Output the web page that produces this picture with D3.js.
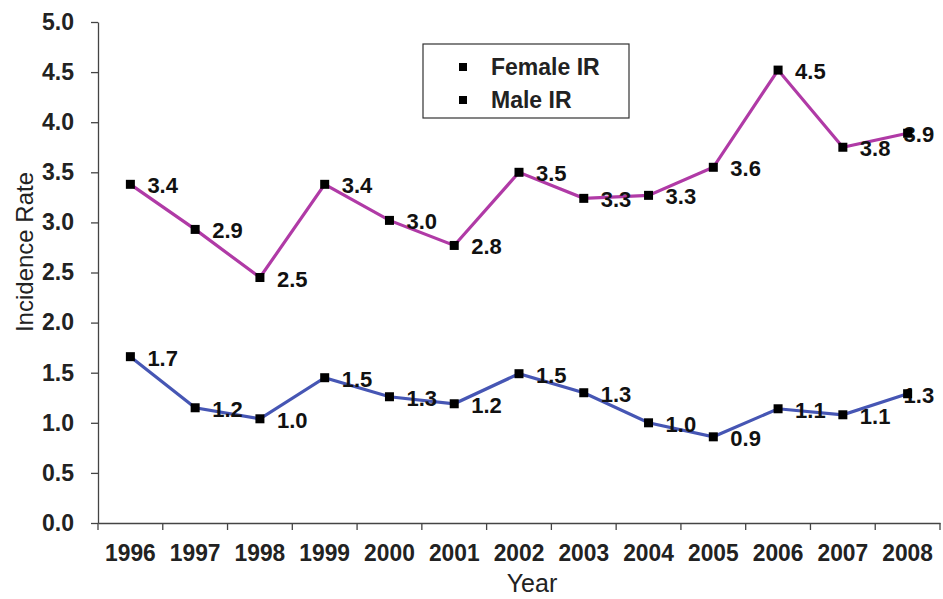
<!DOCTYPE html>
<meta charset="utf-8">
<style>
body { margin: 0; background: #fff; }
svg { font-family: "Liberation Sans", Arial, sans-serif; }
.domain, .tick line { stroke: #444; stroke-width: 1.3px; }
.y.axis .tick text { font-size: 23px; font-weight: bold; fill: #222; }
.x.axis .tick text { font-size: 24px; font-weight: bold; fill: #222; }
.val { font-size: 22px; font-weight: bold; fill: #111; }
.legend text { font-size: 23px; font-weight: bold; fill: #222; }
</style>
<svg width="943" height="599"></svg>
<script src="https://d3js.org/d3.v7.min.js"></script>
<script>

var years = ['1996', '1997', '1998', '1999', '2000', '2001', '2002', '2003', '2004', '2005', '2006', '2007', '2008'];
var femaleIR = [3.38, 2.93, 2.45, 3.38, 3.02, 2.77, 3.50, 3.24, 3.27, 3.55, 4.52, 3.75, 3.89];
var maleIR = [1.66, 1.15, 1.04, 1.45, 1.26, 1.19, 1.49, 1.30, 1.00, 0.86, 1.14, 1.08, 1.29];
var femaleLabels = ['3.4', '2.9', '2.5', '3.4', '3.0', '2.8', '3.5', '3.3', '3.3', '3.6', '4.5', '3.8', '3.9'];
var maleLabels = ['1.7', '1.2', '1.0', '1.5', '1.3', '1.2', '1.5', '1.3', '1.0', '0.9', '1.1', '1.1', '1.3'];
var yTicks = [0, 0.5, 1, 1.5, 2, 2.5, 3, 3.5, 4, 4.5, 5];

var series = [
  { name: 'Female IR', values: femaleIR, labels: femaleLabels, color: '#b03aa6' },
  { name: 'Male IR', values: maleIR, labels: maleLabels, color: '#4656b4' }
];

var margin = { top: 22, right: 3, bottom: 76, left: 98 };
var width = 943 - margin.left - margin.right;
var height = 599 - margin.top - margin.bottom;

var x = d3.scaleBand().domain(years).range([0, width]);
var y = d3.scaleLinear().domain([0, 5]).range([height, 0]);

var svg = d3.select('svg')
  .append('g')
  .attr('transform', 'translate(' + margin.left + ',' + margin.top + ')');

svg.append('g')
  .attr('class', 'y axis')
  .call(d3.axisLeft(y).tickValues(yTicks).tickFormat(d3.format('.1f')).tickSize(7).tickSizeOuter(0).tickPadding(17));

var gx = svg.append('g')
  .attr('class', 'x axis')
  .attr('transform', 'translate(0,' + height + ')')
  .call(d3.axisBottom(x).tickSize(0).tickPadding(21));

gx.selectAll('.tick text').attr('transform', 'scale(0.95,1)');

// tick marks sit between categories
gx.selectAll('.sep')
  .data(years.concat(['end']))
  .enter().append('line')
  .attr('stroke', '#444')
  .attr('stroke-width', 1.3)
  .attr('x1', function (d, i) { return i * x.step(); })
  .attr('x2', function (d, i) { return i * x.step(); })
  .attr('y1', 0)
  .attr('y2', 7);

svg.append('text')
  .attr('x', width / 2 + 13)
  .attr('y', height + 69)
  .attr('text-anchor', 'middle')
  .style('font-size', '25px')
  .style('fill', '#222')
  .text('Year');

svg.append('text')
  .attr('transform', 'rotate(-90)')
  .attr('x', -230)
  .attr('y', -65)
  .attr('text-anchor', 'middle')
  .style('font-size', '24px')
  .style('fill', '#222')
  .text('Incidence Rate');

var line = d3.line()
  .x(function (d, i) { return x(years[i]) + x.bandwidth() / 2; })
  .y(function (d) { return y(d); });

series.forEach(function (s) {
  svg.append('path')
    .datum(s.values)
    .attr('fill', 'none')
    .attr('stroke', s.color)
    .attr('stroke-width', 3.2)
    .attr('d', line);

  svg.selectAll(null)
    .data(s.values)
    .enter().append('text')
    .attr('class', 'val')
    .attr('x', function (d, i) {
      var off = i === years.length - 1 ? -4 : 17;
      return x(years[i]) + x.bandwidth() / 2 + off;
    })
    .attr('y', function (d) { return y(d) + 9; })
    .text(function (d, i) { return s.labels[i]; });

  svg.selectAll(null)
    .data(s.values)
    .enter().append('rect')
    .attr('x', function (d, i) { return x(years[i]) + x.bandwidth() / 2 - 4.5; })
    .attr('y', function (d) { return y(d) - 4.5; })
    .attr('width', 9)
    .attr('height', 9)
    .attr('fill', '#000');
});

var legend = svg.append('g')
  .attr('class', 'legend')
  .attr('transform', 'translate(' + (423 - margin.left) + ',' + (44 - margin.top) + ')');

legend.append('rect')
  .attr('width', 206)
  .attr('height', 74)
  .attr('fill', '#fff')
  .attr('stroke', '#333')
  .attr('stroke-width', 1.2);

var li = legend.selectAll('.item')
  .data(series)
  .enter().append('g')
  .attr('class', 'item')
  .attr('transform', function (d, i) { return 'translate(0,' + (23 + i * 33) + ')'; });

li.append('rect')
  .attr('x', 36)
  .attr('y', -4)
  .attr('width', 8)
  .attr('height', 8)
  .attr('fill', '#000');

li.append('text')
  .attr('x', 68)
  .attr('y', 8)
  .text(function (d) { return d.name; });

</script>
